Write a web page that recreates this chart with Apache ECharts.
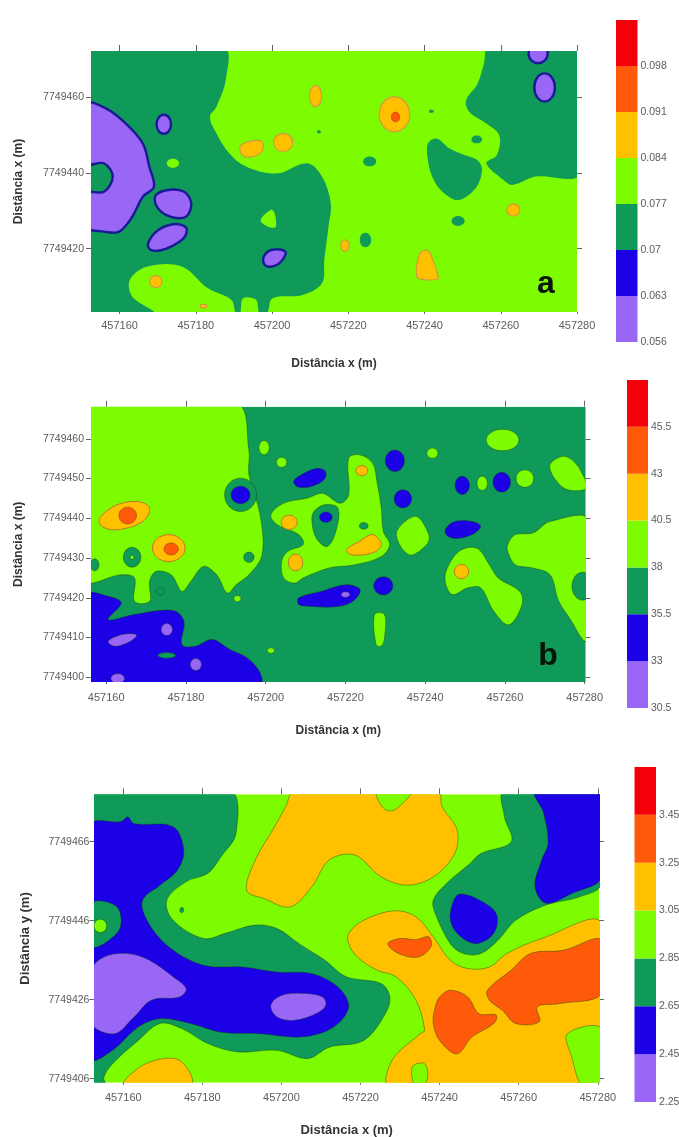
<!DOCTYPE html>
<html><head><meta charset="utf-8">
<style>html,body{margin:0;padding:0;background:#fff}#c{width:679px;height:1137px;filter:blur(0.6px)}</style>
<script src="https://cdn.jsdelivr.net/npm/echarts@6/dist/echarts.min.js"></script>
</head><body><div id="c"></div>
<script>
// Coordinates are metres: easting - 457000, northing - 7749000
const EAST0 = 457000, NORTH0 = 7749000;
const levelColors = ['#9a66f5','#1c00e6','#0f9a5a','#7dfb00','#ffc000','#ff5a0a','#f40008'];

// ---- panel a
const aTicksX = [457160,457180,457200,457220,457240,457260,457280];
const aTicksY = [7749420,7749440,7749460];
const aLegend = [0.056,0.063,0.07,0.077,0.084,0.091,0.098,0.105];
const aRegions = [
 {l:2,p:[152,473,187.3,473,187.9,464.8,185.4,457.4,183.7,454.7,185.4,450.4,188.8,445.1,193.3,441.6,201.2,439.8,209.2,442.5,213.1,439,215.4,431.9,214.8,425.8,213.7,417,213.1,410.9,208,407.8,200.1,406.9,198.7,403,196.7,403,195.8,406.5,192.4,406.9,191.6,403,190.5,403,189.3,406.5,183.1,409.6,176.3,415.3,167.3,415.3,162.7,411.8,163.3,407.4,169,403,152,403]},
 {l:2,p:[256.8,473,281,473,281,439.8,269.2,439,263,436.8,260.7,438.1,256.2,442.5,259,444.7,259.6,449.9,256.2,453,251.7,456.1,250.9,459.1,253.9,463.5,255.6,468.8]},
 {l:2,p:[240.9,447.7,243.2,449,246.6,446.4,250.5,444.7,253.9,443.3,255.1,440.7,253.4,435.9,248.8,432.8,244.3,435.4,242,439,240.9,443.3]},
 {l:2,c:[225.6,443,1.7,1.3]},{l:2,c:[248.8,427.3,1.7,1.3]},{l:2,c:[224.5,422.3,1.5,1.9]},{l:2,c:[253.7,448.8,1.4,1.05]},{l:2,c:[241.8,456.2,0.6,0.45]},{l:2,c:[212.3,450.8,0.5,0.45]},
 {l:3,c:[174,442.5,1.6,1.2]},
 {l:3,p:[197,427.5,200.1,430.2,201,425.8,199,425.8]},
 {l:0,p:[151,458.2,156.5,456.9,161.6,453,166.1,447.7,167.8,441.6,169,436.3,166.1,433.7,163.3,428.4,159.9,424.5,155.9,424.5,151,425.8,151,434.6,155.9,435,158.2,439,155.9,442.5,151,442.5]},
 {l:0,p:[169.3,433.7,172.3,435.4,176.9,435,178.8,431.9,177.4,428.4,173.5,428.4,170.1,430.6]},
 {l:0,p:[167.5,421.5,170,424.8,174.5,426.5,177.5,425.5,177,423,174,420.8,170.5,419.5,168,419.8]},
 {l:0,c:[171.6,452.8,1.9,2.5]},{l:0,c:[269.8,471.4,2.5,2.5]},{l:0,c:[271.5,462.5,2.7,3.7]},
 {l:0,p:[197.8,417.9,200.1,419.7,203.5,419.2,202.4,416.6,200.1,415.3,198.1,415.7]},
 {l:4,c:[211.4,460.2,1.6,2.8]},{l:4,c:[232.1,455.4,4,4.6]},{l:5,c:[232.4,454.7,1.1,1.3]},
 {l:4,p:[191.6,446.8,193.9,448.2,197.3,448.2,197.3,445.5,194.4,444.2,192.2,444.7]},
 {l:4,c:[202.9,448,2.5,2.4]},{l:4,c:[263.3,430.2,1.7,1.6]},
 {l:4,p:[238.2,417,239.2,419.2,240.8,419.5,242,417.5,243.5,413,243.5,412,240.3,411.8,238,412.5]},
 {l:4,c:[169.5,411.3,1.6,1.6]},{l:4,c:[219.1,420.8,1.1,1.5]},{l:4,c:[182,404.8,0.9,0.5]}
];

// ---- panel b
const bTicksX = [457160,457180,457200,457220,457240,457260,457280];
const bTicksY = [7749400,7749410,7749420,7749430,7749440,7749450,7749460];
const bLegend = [30.5,33,35.5,38,40.5,43,45.5,48];
const bRegions = [
 {l:3,p:[155,469,192.6,469,195.8,457.2,195.8,451,198.6,440.9,199.1,430.8,195.8,425.8,192.6,423.3,190.4,421.2,187.7,425.8,184.4,427.9,181.2,424.1,179,421.6,176.3,425.8,172.5,426.6,170.9,424.1,170.9,419.1,167.1,419.1,167.1,425,163.8,425.8,155,424.6]},
 {l:2,c:[193.7,445.9,4,4.2]},{l:1,c:[193.7,445.9,2.4,2.2]},
 {l:2,c:[195.8,430.2,1.3,1.3]},{l:2,c:[157.1,428.3,1.1,1.5]},{l:2,c:[173.6,421.6,1.1,0.85]},
 {l:2,c:[166.5,430.2,2.2,2.5]},{l:3,c:[166.5,430.2,0.5,0.5]},
 {l:4,p:[158.4,440.1,162.7,443.4,168.1,444.2,170.9,442.6,169.2,439.2,162.7,437.1,158.9,438]},
 {l:5,c:[165.4,440.7,2.2,2.1]},
 {l:4,c:[175.7,432.5,4.1,3.4]},{l:5,c:[176.3,432.3,1.8,1.5]},
 {l:3,p:[201.3,440.9,204.5,443.8,210.5,445.1,214.3,446.3,218.6,443.8,220.8,445.9,220.8,455.1,223.5,456,226.8,453.9,227.9,449.3,229,442.6,229.5,436.7,231.1,433.4,229,430.4,222.4,428.3,215.9,427.5,209.4,425,207.2,423.7,204.5,425,204,429.2,205.6,431.7,209.4,433.4,208.3,435.9,202.9,438.4]},
 {l:2,p:[212.1,441.7,214.8,443.4,218.1,442.6,217.6,436.7,215.4,432.9,212.7,435,211.6,439.2]},
 {l:1,c:[215.1,440.3,1.6,1.3]},{l:2,c:[224.6,438.1,1.1,0.85]},
 {l:4,c:[205.9,439,2,1.8]},{l:4,c:[207.5,428.9,1.8,2.1]},{l:4,c:[224.1,452,1.5,1.3]},
 {l:4,p:[220.3,432.1,223.5,434.2,226.8,435.9,229,433.4,226.8,431.3,221.4,430.8]},
 {l:3,p:[232.8,436.3,237.6,440.5,240.9,435.9,240.4,433.4,236,430.8]},
 {l:3,c:[259.4,459.7,4.1,2.7]},{l:3,c:[241.8,456.4,1.4,1.3]},{l:3,c:[199.6,457.8,1.3,1.8]},{l:3,c:[204,454.1,1.3,1.3]},{l:3,c:[254.3,448.8,1.3,1.8]},{l:3,c:[265,450,2.2,2.2]},{l:3,c:[201.3,406.7,0.9,0.7]},{l:3,c:[192.9,419.8,0.9,0.8]},
 {l:3,p:[271.3,453.5,274.6,455.6,277.3,454.3,279.5,451,280.5,447.6,275.7,447.2,272.4,450.1]},
 {l:3,p:[227.3,415.8,229.8,415.8,229.8,409.9,229,407.8,227.7,408.2]},
 {l:3,p:[260.7,433.4,262.6,435.9,267,436.3,271.3,439.2,281,439.6,281,409,279.5,409.5,276.7,414.1,273.5,419.1,271.3,425.8,267,427.5,262.6,428.3,260.7,431.7]},
 {l:2,c:[279.5,422.9,2.7,3.5]},
 {l:3,p:[245.2,426.6,248.5,431.7,252.9,432.5,256.1,428.3,258.3,425,263.7,421.6,264.3,418.3,261,413.2,257.2,416.6,253.9,422.5,250.7,422.5,246.9,420.8,245.2,423.3]},
 {l:4,c:[249.1,426.6,1.8,1.8]},
 {l:1,c:[232.4,454.5,2.4,2.7]},{l:1,c:[234.4,444.9,2.2,2.3]},{l:1,c:[249.3,448.3,1.8,2.3]},{l:1,c:[259.2,449.1,2.2,2.5]},{l:1,c:[229.5,423,2.4,2.3]},
 {l:1,p:[207,449.3,209.5,451.3,213,452.6,215,451.8,214.8,449.9,212,448.2,208.3,447.8]},
 {l:1,p:[245.2,437.5,247.4,439.2,251.8,439.2,253.9,438,251.8,435.9,247.4,434.9,245.2,435.9]},
 {l:1,p:[208.3,420,213.8,421.6,220.3,423.3,223.7,422,221.9,419.1,218.1,417.8,211.6,417.8,208.3,418.3]},
 {l:0,c:[220,420.8,1.1,0.7]},
 {l:1,p:[155,420.8,160.5,420.4,163.8,418.7,160.5,414.5,167.1,415.8,176.8,416.8,179.5,414.1,179,408.2,182.3,407.8,186.6,409.5,191,407,195.3,404.9,198.6,401.1,198.6,398,155,398]},
 {l:0,p:[160.5,409,163.8,410.7,167.6,410.7,166,409,162.2,407.8]},
 {l:0,c:[175.2,412,1.4,1.5]},{l:0,c:[182.5,403.2,1.4,1.5]},{l:0,c:[162.9,399.7,1.7,1.2]},
 {l:2,c:[175.2,405.5,2.2,0.7]}
];

// ---- panel c
const cTicksX = [457160,457180,457200,457220,457240,457260,457280];
const cTicksY = [7749406,7749426,7749446,7749466];
const cLegend = [2.25,2.45,2.65,2.85,3.05,3.25,3.45,3.65];
const cRegions = [
 {l:2,p:[152,479,186.9,479,188.5,468.1,184.7,462.2,181.4,458,175.9,455.9,171,451.2,172.6,446.1,180.3,441.5,185.8,442.8,193.4,444.9,198.9,444,204.4,440.2,211,436,216.4,431.8,225.2,430.1,227.4,426.7,226.3,422.5,220.8,415.7,212.1,414,206.6,411.1,198.9,413.2,189,412.8,181.4,414.9,174.8,418.7,169.3,420,163.8,415.7,157.3,409.8,155.1,406.4,155.6,404,152,404]},
 {l:1,p:[152,470.2,159.5,471.1,161.1,472.3,162.7,470.6,172.6,469.8,175.3,463.9,173.7,458.8,169.3,455,164.9,451.2,166,446.1,171.5,439.4,180.3,434.7,190.1,434.3,198.9,433,207.7,432.6,214.3,429.2,217,424.2,213.2,419.1,205.5,416.6,194.5,417.4,184.7,417.8,177,420,169.3,421.2,163.8,419.1,157.3,413.2,152,411.1]},
 {l:0,p:[152,433.5,155.1,436.8,161.1,437.7,166.6,436,172.6,431.8,175.9,428.8,174.2,426.7,167.1,425.9,162.7,421.6,157.8,417.4,152,420]},
 {l:0,p:[197.3,424.6,200,427.1,205.5,427.6,210.4,426.7,211.2,424.6,208.8,422.5,203.3,420.8,198.9,421.6]},
 {l:2,p:[152,450.4,158.4,449.5,158.9,443.6,152,439.4]},
 {l:3,c:[154.2,444.7,1.6,1.7]},{l:2,c:[174.8,448.7,0.5,0.7]},
 {l:2,p:[256.4,479,281,479,281,455.4,275.6,452.1,266.9,450,259.2,446.1,254.8,441.1,250.4,437.7,246,437.7,242.7,440.2,238.9,447.8,238.4,451.2,241.7,455.4,247.7,460.5,250.4,463,258.1,466,256.4,472.3]},
 {l:1,p:[264.1,479,281,479,281,457.1,273.4,452.9,266.9,450.4,264.1,454.6,265.8,461.4,267.4,465.6,266.3,473.2]},
 {l:1,p:[243.3,450.4,244.9,452.7,249.3,451.6,254.3,447.8,253.7,442.8,249.3,440.2,244.9,442.3,242.7,446.1]},
 {l:4,p:[203.3,479,239.5,479,240.6,474.9,244.4,469,243.8,463,238.4,457.1,231.8,455,225.2,457.1,218.6,462.6,212.1,461.4,207.7,454.6,202.2,449.5,195.6,451.6,191.2,453.7,193.4,461.4,197.8,469,201.1,474.9]},
 {l:3,p:[224.1,479,232.9,479,228.5,474,225.8,474.5]},
 {l:4,p:[217,442.8,220.8,446.1,228.5,448.5,234,447,238.4,441.9,242.7,436,247.1,433.9,252.6,434.3,257,437.7,265.8,441.5,281,445.3,281,404,227.4,404,228,410.7,235.1,417.4,236.2,418.3,234,425.9,229,431.8,224.1,433.5,219.2,436.8,217,440.2]},
 {l:3,p:[272.3,417.4,281,418.7,281,404,276.2,404,273.4,411.5]},
 {l:5,p:[226.9,440.2,230.1,441.5,234,441.2,237.3,441.9,237.8,439.4,234.5,436.8,229.6,437.7]},
 {l:5,p:[252.1,428.4,258.1,433.5,263,437.7,271.2,438.5,281,441.1,281,427.6,270.1,425,264.7,424.2,265.2,420.4,259.2,420,255.9,423.3,252.6,425.9]},
 {l:5,p:[240,426.7,242.7,428.4,247.1,426.7,249.9,422.5,254.3,422.1,253.7,420,248.2,416.6,244.4,412.3,240,415.7,238.4,420,238.9,424.2]},
 {l:4,p:[160,404,164.9,409.4,173.2,411.1,177,407.3,177,404]},
 {l:3,p:[233.4,409.4,236.2,409.8,237,406.4,235.6,404,233.8,404,232.9,407.3]}
];

// ---- layout and styling
const thin = ['rgba(20,60,20,0.6)',0.7], none = ['transparent',0];
const panels = [
 {regions:aRegions,base:3,ticksX:aTicksX,ticksY:aTicksY,legend:aLegend,nameSize:12,
  box:{left:91,top:51,width:486,height:261},xr:[457152.5,457280],yr:[7749403.3,7749472.1],
  bar:{left:616,top:20,width:21.5,height:322},xName:'Distância x (m)',yName:'Distância x (m)',gapX:46,gapY:66,xMargin:8,yMargin:7,barMargin:3,
  edges:{0:['#1a1a96',2.4],4:['#d09a40',1.2],5:['#b04a10',0.6]},def:none},
 {regions:bRegions,base:2,ticksX:bTicksX,ticksY:bTicksY,legend:bLegend,nameSize:12,
  box:{left:91,top:406.7,width:494.5,height:275.3},xr:[457156.2,457280.2],yr:[7749398.8,7749468.1],
  bar:{left:627,top:380,width:21,height:328},xName:'Distância x (m)',yName:'Distância x (m)',gapX:43,gapY:66,xMargin:10,yMargin:7,barMargin:3,
  edges:{4:['#b87a30',1],5:['#a04a10',0.7]},def:thin},
 {regions:cRegions,base:3,ticksX:cTicksX,ticksY:cTicksY,legend:cLegend,nameSize:13,
  box:{left:94.4,top:794.3,width:504.6,height:288.4},xr:[457152.7,457280.3],yr:[7749405,7749478],
  bar:{left:634.5,top:767,width:21.5,height:335},xName:'Distância x (m)',yName:'Distância y (m)',gapX:41,gapY:62,xMargin:10,yMargin:5,barMargin:3,
  edges:{},def:thin}
];

const labelColor = '#5c5c5c', tickColor = '#666';
const plain = v => String(v);
const grid=[],xAxis=[],yAxis=[],series=[];
panels.forEach(P=>{
  const g = grid.length;
  const nameStyle = {fontSize:P.nameSize,fontWeight:'bold',fontFamily:'Liberation Sans',color:'#333'};
  grid.push(Object.assign({outerBoundsMode:'none'},P.box));
  const x0 = xAxis.length, y0 = yAxis.length;
  xAxis.push({gridIndex:g,type:'value',position:'bottom',min:P.xr[0],max:P.xr[1],scale:true,splitLine:{show:false},
    axisLine:{show:false},axisTick:{show:true,length:2,customValues:P.ticksX,lineStyle:{color:tickColor}},
    axisLabel:{customValues:P.ticksX,margin:P.xMargin,fontSize:11,fontFamily:'Liberation Sans',color:labelColor,formatter:plain},
    name:P.xName,nameLocation:'middle',nameGap:P.gapX,nameTextStyle:nameStyle});
  xAxis.push({gridIndex:g,type:'value',position:'top',min:P.xr[0],max:P.xr[1],scale:true,splitLine:{show:false},
    axisLine:{show:false},axisLabel:{show:false},axisTick:{show:true,length:6,customValues:P.ticksX,lineStyle:{color:tickColor}}});
  yAxis.push({gridIndex:g,type:'value',position:'left',min:P.yr[0],max:P.yr[1],scale:true,splitLine:{show:false},
    axisLine:{show:false},axisTick:{show:true,length:5,customValues:P.ticksY,lineStyle:{color:tickColor}},
    axisLabel:{customValues:P.ticksY,margin:P.yMargin,fontSize:10.5,fontFamily:'Liberation Sans',color:labelColor,formatter:plain},
    name:P.yName,nameLocation:'middle',nameGap:P.gapY,nameTextStyle:nameStyle});
  yAxis.push({gridIndex:g,type:'value',position:'right',min:P.yr[0],max:P.yr[1],scale:true,splitLine:{show:false},
    axisLine:{show:false},axisLabel:{show:false},axisTick:{show:true,length:5,customValues:P.ticksY,lineStyle:{color:tickColor}}});
  series.push({type:'custom',coordinateSystem:'cartesian2d',xAxisIndex:x0,yAxisIndex:y0,clip:true,silent:true,z:2,animation:false,
    data:[[0]],
    renderItem:(params,api)=>{
      const a=api.coord([P.xr[0],P.yr[1]]), b=api.coord([P.xr[1],P.yr[0]]);
      return {type:'rect',shape:{x:a[0],y:a[1],width:b[0]-a[0],height:b[1]-a[1]},style:{fill:levelColors[P.base]}};
    }});
  series.push({type:'custom',coordinateSystem:'cartesian2d',xAxisIndex:x0,yAxisIndex:y0,clip:true,silent:true,z:3,animation:false,
    data:P.regions.map((r,i)=>[i]),
    renderItem:(params,api)=>{
      const r=P.regions[params.dataIndex], e=P.edges[r.l]||P.def;
      const style={fill:levelColors[r.l],stroke:e[0],lineWidth:e[1]};
      if(r.c){
        const c=api.coord([EAST0+r.c[0],NORTH0+r.c[1]]), s=api.size([r.c[2],r.c[3]]);
        return {type:'ellipse',shape:{cx:c[0],cy:c[1],rx:s[0],ry:s[1]},style};
      }
      const pts=[];
      for(let i=0;i<r.p.length;i+=2) pts.push(api.coord([EAST0+r.p[i],NORTH0+r.p[i+1]]));
      return {type:'polygon',shape:{points:pts,smooth:0.35},style};
    }});
  // colour scale
  const g2=grid.length; grid.push(Object.assign({outerBoundsMode:'none'},P.bar));
  const x2=xAxis.length,y2=yAxis.length, L=P.legend;
  xAxis.push({gridIndex:g2,type:'value',min:0,max:1,show:false});
  yAxis.push({gridIndex:g2,type:'value',position:'right',min:L[0],max:L[L.length-1],scale:true,splitLine:{show:false},
    axisLine:{show:false},axisTick:{show:false},
    axisLabel:{customValues:L.slice(0,-1),fontSize:10.5,fontFamily:'Liberation Sans',color:labelColor,margin:P.barMargin,formatter:plain}});
  series.push({type:'custom',coordinateSystem:'cartesian2d',xAxisIndex:x2,yAxisIndex:y2,silent:true,z:3,animation:false,
    data:levelColors.map((c,i)=>[i]),
    renderItem:(params,api)=>{
      const i=params.dataIndex,a=api.coord([0,L[i+1]]),b=api.coord([1,L[i]]);
      return {type:'rect',shape:{x:a[0],y:a[1],width:b[0]-a[0],height:b[1]-a[1]},style:{fill:levelColors[i]}};
    }});
});

const chart=echarts.init(document.getElementById('c'),null,{renderer:'canvas'});
chart.setOption({animation:false,backgroundColor:'#fff',grid,xAxis,yAxis,series,
  graphic:[
    {type:'text',x:546,y:284,z:10,style:{text:'a',fontFamily:'Liberation Sans',fontWeight:'bold',fontSize:32,fill:'#0a140a',textAlign:'center',textVerticalAlign:'middle'}},
    {type:'text',x:548,y:656,z:10,style:{text:'b',fontFamily:'Liberation Sans',fontWeight:'bold',fontSize:32,fill:'#0a140a',textAlign:'center',textVerticalAlign:'middle'}}
  ]});
</script></body></html>
